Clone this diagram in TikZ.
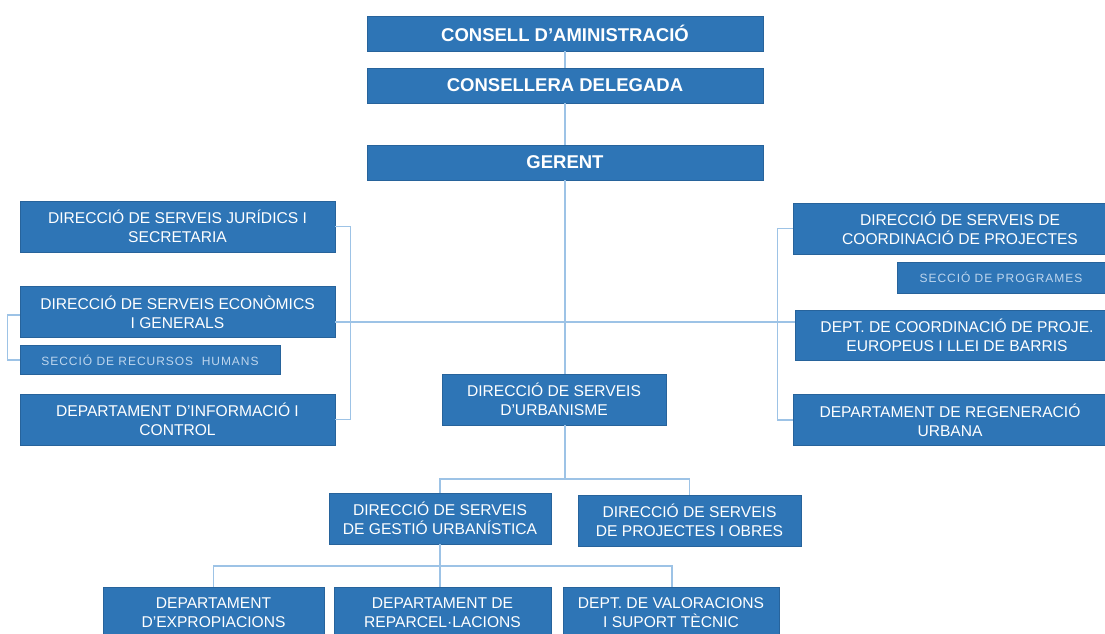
\documentclass[tikz,border=0pt]{standalone}
\usepackage{fontspec}
\setmainfont{Liberation Sans}
\newfontfamily\secfont[LetterSpace=8]{Liberation Sans}
\definecolor{orgblue}{RGB}{46,117,182}
\definecolor{linkblue}{RGB}{157,195,230}
\definecolor{sectext}{RGB}{190,214,238}

\begin{document}
\begin{tikzpicture}[x=1pt, y=-1pt,
  orgbox/.style={fill=orgblue, draw=orgblue!85!black, line width=0.6pt, text=white,
    align=center, inner sep=0pt, minimum height=51, font=\fontsize{15.6}{19}\selectfont},
  headbox/.style={orgbox, minimum width=396, minimum height=35,
    font=\bfseries\fontsize{18.5}{22}\selectfont},
  secbox/.style={orgbox, text=sectext, minimum height=29,
    font=\secfont\fontsize{12}{14}\selectfont},
  link/.style={linkblue, line width=1.2pt}]
\path[use as bounding box, clip] (0,0) rectangle (1105,633);

% Top of the chart
\node[headbox] (consell) at (565,33.5) {CONSELL D’AMINISTRACIÓ};
\node[headbox] (delegada) at (565,85.5) {CONSELLERA DELEGADA};
\node[headbox] (gerent) at (565,162.5) {GERENT};

% Left column
\node[orgbox, minimum width=315] (juridics) at (177.5,226.5) {DIRECCIÓ DE SERVEIS JURÍDICS I\\SECRETARIA};
\node[orgbox, minimum width=315] (economics) at (177.5,312) {DIRECCIÓ DE SERVEIS ECONÒMICS\\I GENERALS};
\node[secbox, minimum width=260] (rrhh) at (150,360) {SECCIÓ DE RECURSOS\ \ HUMANS};
\node[orgbox, minimum width=315] (informacio) at (177.5,419.5) {DEPARTAMENT D’INFORMACIÓ I\\CONTROL};

% Right column
\node[orgbox, minimum width=334] (coordinacio) at (960,228.5) {DIRECCIÓ DE SERVEIS DE\\COORDINACIÓ DE PROJECTES};
\node[secbox, minimum width=208, minimum height=31] (programes) at (1001,277.5) {SECCIÓ DE PROGRAMES};
\node[orgbox, minimum width=324, minimum height=50] (europeus) at (957,335) {DEPT. DE COORDINACIÓ DE PROJE.\\EUROPEUS I LLEI DE BARRIS};
\node[orgbox, minimum width=314] (regeneracio) at (950,420) {DEPARTAMENT DE REGENERACIÓ\\URBANA};

% Urbanisme branch
\node[orgbox, minimum width=224] (urbanisme) at (554,399.5) {DIRECCIÓ DE SERVEIS\\D’URBANISME};
\node[orgbox, minimum width=222] (gestio) at (440,518.5) {DIRECCIÓ DE SERVEIS\\DE GESTIÓ URBANÍSTICA};
\node[orgbox, minimum width=223] (obres) at (689.5,520.5) {DIRECCIÓ DE SERVEIS\\DE PROJECTES I OBRES};

% Bottom row
\node[orgbox, minimum width=221] (expropiacions) at (213.5,613) {DEPARTAMENT\\D’EXPROPIACIONS};
\node[orgbox, minimum width=217] (reparcelacions) at (442.5,613) {DEPARTAMENT DE\\REPARCEL·LACIONS};
\node[orgbox, minimum width=216] (valoracions) at (671,613) {DEPT. DE VALORACIONS\\I SUPORT TÈCNIC};

% Spine
\coordinate (hub) at (565,322);
\coordinate (split) at (565,479);
\coordinate (lowsplit) at (440,566);
\draw[link] (consell.south) -- (delegada.north);
\draw[link] (delegada.south) -- (gerent.north);
\draw[link] (gerent.south) -- (gerent.south |- urbanisme.north);
\draw[link] (economics.east |- hub) -- (europeus.west |- hub);

% Brackets
\draw[link] (juridics.east) -- ++(15,0) |- (informacio.east);
\draw[link] ([yshift=-3]economics.west) -- ++(-12,0) |- (rrhh.west);
\draw[link] (coordinacio.west) -- ++(-15,0) |- (regeneracio.west);

% Lower tree
\draw[link] (urbanisme.south -| split) -- (split);
\draw[link] (split) -| (gestio.north);
\draw[link] (split) -| (obres.north);
\draw[link] (gestio.south) -- (gestio.south |- reparcelacions.north);
\draw[link] (lowsplit) -| (expropiacions.north);
\draw[link] (lowsplit) -| ([xshift=1]valoracions.north);
\end{tikzpicture}
\end{document}
